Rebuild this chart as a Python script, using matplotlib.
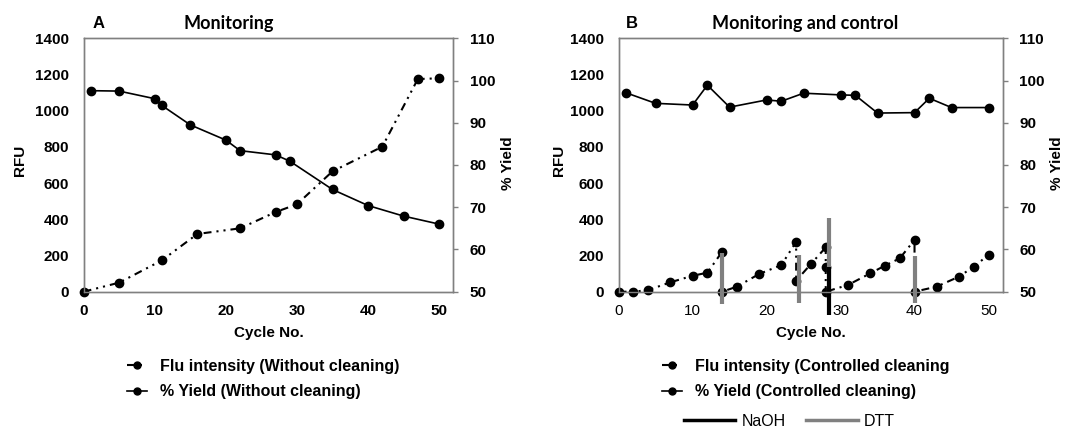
import matplotlib
matplotlib.use("Agg")
import matplotlib.pyplot as plt
from matplotlib.lines import Line2D

plt.rcParams['font.family'] = ['Liberation Sans', 'DejaVu Sans']

# panel A - monitoring only
flu_a_cycle = [0, 5, 11, 16, 22, 27, 30, 35, 42, 47, 50]
flu_a_rfu = [0, 50, 173, 319, 350, 440, 483, 665, 801, 1175, 1179]
yield_a_cycle = [1, 5, 10, 11, 15, 20, 22, 27, 29, 35, 40, 45, 50]
yield_a = [97.6, 97.5, 95.7, 94.1, 89.5, 85.9, 83.4, 82.4, 80.9, 74.2, 70.4, 67.9, 66.0]

# panel B - monitoring and control
flu_b_cycle = [0, 2, 4, 7, 10, 12, 14, 14, 16, 19, 22, 24, 24, 26, 28, 28, 28,
               31, 34, 36, 38, 40, 40, 43, 46, 48, 50]
flu_b_rfu = [0, 0, 9, 52, 88, 105, 221, 0, 28, 98, 147, 276, 61, 153, 245, 135, 0,
             37, 101, 144, 184, 286, 0, 28, 83, 138, 203]
yield_b_cycle = [1, 5, 10, 12, 15, 20, 22, 25, 30, 32, 35, 40, 42, 45, 50]
yield_b = [97.1, 94.6, 94.2, 98.9, 93.7, 95.4, 95.1, 97.0, 96.6, 96.5, 92.3, 92.4,
           95.8, 93.6, 93.6]

# cleaning events (cycle, low RFU, high RFU)
dtt_cycle = [14.0, 24.4, 28.5, 40.1]
dtt_low = [-68, -62, -30, -62]
dtt_high = [214, 203, 405, 197]
naoh_cycle = [28.4]
naoh_low = [-129]
naoh_high = [137]

rfu_ticks = [0, 200, 400, 600, 800, 1000, 1200, 1400]
yield_ticks = [50, 60, 70, 80, 90, 100, 110]
cycle_ticks = [0, 10, 20, 30, 40, 50]

W, H = 1066, 428
fig = plt.figure(figsize=(W / 100, H / 100), dpi=100)


def fx(x):
    return x / W


def fy(y):
    return 1 - y / H


flu_dash = (0, (3.8, 2.4, 1, 2.4, 1, 2.4))
spine_col = '#808080'


def make_panel(left, right, flu_x, flu_y, yl_x, yl_y, bold_x):
    ax = fig.add_axes([fx(left), fy(291.7), fx(right - left), fy(38.3) - fy(291.7)])
    ax2 = ax.twinx()
    ax.plot(flu_x, flu_y, color='black', lw=1.5, ls=flu_dash, marker='o', ms=6,
            clip_on=False, zorder=4)
    ax2.plot(yl_x, yl_y, color='black', lw=1.2, marker='o', ms=6, clip_on=False)
    ax.set_xlim(0, 52)
    ax.set_ylim(0, 1400)
    ax2.set_ylim(50, 110)
    ax.set_xticks(cycle_ticks)
    ax.set_yticks(rfu_ticks)
    ax2.set_yticks(yield_ticks)
    for a in (ax, ax2):
        for s in a.spines.values():
            s.set_color(spine_col)
            s.set_linewidth(1)
    ax.tick_params(axis='y', length=0, pad=10.5, labelsize=11)
    ax.tick_params(axis='x', length=0, pad=9, labelsize=11)
    ax2.tick_params(axis='y', length=3.6, width=1, color=spine_col, pad=8, labelsize=11)
    for t in ax.get_yticklabels() + ax2.get_yticklabels():
        t.set_fontweight('bold')
    if bold_x:
        for t in ax.get_xticklabels():
            t.set_fontweight('bold')
    return ax, ax2


axA, axA2 = make_panel(83.6, 453.4, flu_a_cycle, flu_a_rfu, yield_a_cycle, yield_a, True)
axB, axB2 = make_panel(618.6, 1003.3, flu_b_cycle, flu_b_rfu, yield_b_cycle, yield_b, False)

axB.vlines(dtt_cycle, dtt_low, dtt_high, colors='#808080', lw=3, zorder=5, clip_on=False)
axB.vlines(naoh_cycle, naoh_low, naoh_high, colors='black', lw=3, zorder=6, clip_on=False)

# axis titles and labels
lab = dict(fontsize=11, fontweight='bold', ha='center', va='center')
fig.text(fx(20.4), fy(160), 'RFU', rotation=90, **lab)
fig.text(fx(558.5), fy(160), 'RFU', rotation=90, **lab)
fig.text(fx(508.5), fy(163), '% Yield', rotation=90, **lab)
fig.text(fx(1056.8), fy(163), '% Yield', rotation=90, **lab)
fig.text(fx(268.5), fy(333), 'Cycle No.', **lab)
fig.text(fx(811), fy(333), 'Cycle No.', **lab)

fig.text(fx(98.5), fy(23), 'A', fontsize=12, fontweight='bold', ha='center', va='center')
fig.text(fx(631.6), fy(23), 'B', fontsize=12, fontweight='bold', ha='center', va='center')
fig.text(fx(229), fy(23), 'Monitoring', fontsize=13, fontweight='bold',
         family='Lato', ha='center', va='center')
fig.text(fx(805), fy(23), 'Monitoring and control', fontsize=13, fontweight='bold',
         family='Lato', ha='center', va='center')

# legends
h_flu = Line2D([], [], color='black', lw=1.5, ls=flu_dash, marker='o', ms=5)
h_yld = Line2D([], [], color='black', lw=1.2, marker='o', ms=5)
leg_kw = dict(frameon=False, loc='upper left', numpoints=1, handlelength=1.25,
              handletextpad=0.8, labelspacing=0.65, borderpad=0, borderaxespad=0,
              prop={'size': 11.5, 'weight': 'bold'})
fig.legend([h_flu, h_yld], ['Flu intensity (Without cleaning)', '% Yield (Without cleaning)'],
           bbox_to_anchor=(fx(127), fy(359)), **leg_kw)
fig.legend([h_flu, h_yld], ['Flu intensity (Controlled cleaning', '% Yield (Controlled cleaning)'],
           bbox_to_anchor=(fx(662), fy(359)), **leg_kw)
h_naoh = Line2D([], [], color='black', lw=2.5)
h_dtt = Line2D([], [], color='#808080', lw=2.5)
fig.legend([h_naoh, h_dtt], ['NaOH', 'DTT'], ncol=2, frameon=False, loc='upper left',
           handlelength=3.2, handletextpad=0.4, columnspacing=1.3, borderpad=0,
           borderaxespad=0, fontsize=11.5, bbox_to_anchor=(fx(684), fy(414)))

fig.savefig('out.png', dpi=100)
